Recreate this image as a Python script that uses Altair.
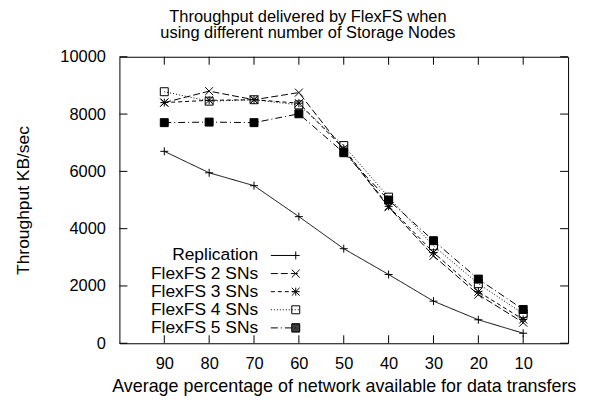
import altair as alt
import pandas as pd

# ---- data ----
x_vals = [90, 80, 70, 60, 50, 40, 30, 20, 10]
series_names = ["Replication", "FlexFS 2 SNs", "FlexFS 3 SNs", "FlexFS 4 SNs", "FlexFS 5 SNs"]
replication = [6700, 5950, 5500, 4420, 3300, 2400, 1470, 820, 350]
flexfs_2 = [8400, 8800, 8500, 8750, 6750, 4750, 3050, 1700, 720]
flexfs_3 = [8400, 8480, 8500, 8380, 6800, 4780, 3170, 1800, 830]
flexfs_4 = [8780, 8450, 8500, 8320, 6900, 5100, 3400, 2080, 1030]
flexfs_5 = [7700, 7720, 7700, 8010, 6650, 5000, 3580, 2240, 1180]
y_ticks = [0, 2000, 4000, 6000, 8000, 10000]

title_lines = ["Throughput delivered by FlexFS when", "using different number of Storage Nodes"]
x_title = "Average percentage of network available for data transfers"
y_title = "Throughput KB/sec"

values = [replication, flexfs_2, flexfs_3, flexfs_4, flexfs_5]
rows = []
for name, vals in zip(series_names, values):
    for xv, yv in zip(x_vals, vals):
        rows.append({"series": name, "x": xv, "y": yv})
df = pd.DataFrame(rows)
xt_df = pd.DataFrame({"x": x_vals})
yt_df = pd.DataFrame({"y": y_ticks})

# ---- style ----
W, H = 451, 288
FONT = "Liberation Sans"
TICK = 8
dashes = [[1, 0], [7, 3], [4, 3], [1, 2], [7, 3, 1, 3]]

plus = "M-1,0L1,0M0,-1L0,1"
cross = "M-1,-1L1,1M-1,1L1,-1"
star = plus + cross
square = "M-1,-1L1,-1L1,1L-1,1Z"
marker_paths = [plus, cross, star, square, square]
fills = ["transparent", "transparent", "transparent", "transparent", "black"]

UNIT = 4.0           # px per path unit for size 64
LABEL_END = 124      # px, right edge of legend labels inside the legend group
SAMPLE_GAP = 13      # px between label end and line sample
SAMPLE_LEN = 28      # px length of the line sample
SYM_CENTER = 4.5     # px, where the legend places the symbol centre


def f(v):
    return ("%.3f" % v).rstrip("0").rstrip(".")


def shift(path, dx):
    out = []
    tok = path.replace("M", " M ").replace("L", " L ").replace("Z", " Z ").split()
    for t in tok:
        if t in ("M", "L", "Z"):
            out.append(t)
        else:
            a, b = t.split(",")
            out.append("%s,%s" % (f(float(a) + dx), b))
    return "".join(out)


start_u = (LABEL_END + SAMPLE_GAP - SYM_CENTER) / UNIT
end_u = start_u + SAMPLE_LEN / UNIT
marker_u = end_u - 0.75


def dashed_line(pattern, start, end):
    if pattern == [1, 0]:
        return "M%s,0L%s,0" % (f(start), f(end))
    out = ""
    pos = start
    i = 0
    while pos < end - 1e-9:
        seg = pattern[i % len(pattern)] / UNIT
        if i % 2 == 0:
            out += "M%s,0L%s,0" % (f(pos), f(min(pos + seg, end)))
        pos += seg
        i += 1
    return out


hatch = "".join("M-1,%sL1,%s" % (f(-1 + k * 0.25), f(-1 + k * 0.25)) for k in range(9))
legend_markers = [plus, cross, star, square, square + hatch]
legend_paths = [dashed_line(d, start_u, end_u) + shift(m, marker_u)
                for d, m in zip(dashes, legend_markers)]

X = alt.X("x:Q", scale=alt.Scale(domain=[8, 92], reverse=True),
          axis=alt.Axis(values=x_vals, title=x_title, ticks=False, tickSize=0, domain=False,
                        grid=False, labelPadding=12, titlePadding=6, format="d",
                        titleFontSize=18))
Y = alt.Y("y:Q", scale=alt.Scale(domain=[0, 10000]),
          axis=alt.Axis(values=y_ticks, title=y_title, ticks=False, tickSize=0, domain=False,
                        grid=False, labelPadding=14, titlePadding=28, format="d"))

base = alt.Chart(df)

lines = base.mark_line(color="black", strokeWidth=1).encode(
    x=X, y=Y,
    strokeDash=alt.StrokeDash("series:N", scale=alt.Scale(domain=series_names, range=dashes), legend=None),
)

points = base.mark_point(size=64, opacity=1, strokeWidth=1, color="black", filled=False).encode(
    x=X, y=Y,
    shape=alt.Shape("series:N", scale=alt.Scale(domain=series_names, range=marker_paths), legend=None),
    fill=alt.Fill("series:N", scale=alt.Scale(domain=series_names, range=fills), legend=None),
)

legend_layer = base.transform_filter("false").mark_point(
    size=64, opacity=1, strokeWidth=1, color="black", filled=False
).encode(
    shape=alt.Shape("series:N", scale=alt.Scale(domain=series_names, range=legend_paths),
                    legend=alt.Legend(title=None, orient="none", legendX=11, legendY=191,
                                      labelAlign="right", labelOffset=LABEL_END - 13,
                                      labelFontSize=17.5,
                                      labelFont=FONT, labelColor="black", symbolSize=64,
                                      symbolStrokeWidth=1, symbolStrokeColor="black",
                                      padding=0, rowPadding=-0.8, labelLimit=400)),
)

tick_x_bottom = alt.Chart(xt_df).mark_rule(color="black", strokeWidth=1).encode(
    x=alt.X("x:Q"), y=alt.value(H), y2=alt.value(H - TICK))
tick_x_top = alt.Chart(xt_df).mark_rule(color="black", strokeWidth=1).encode(
    x=alt.X("x:Q"), y=alt.value(0), y2=alt.value(TICK))
tick_y_left = alt.Chart(yt_df).mark_rule(color="black", strokeWidth=1).encode(
    y=alt.Y("y:Q"), x=alt.value(0), x2=alt.value(TICK))
tick_y_right = alt.Chart(yt_df).mark_rule(color="black", strokeWidth=1).encode(
    y=alt.Y("y:Q"), x=alt.value(W), x2=alt.value(W - TICK))

chart = alt.layer(
    tick_x_bottom, tick_x_top, tick_y_left, tick_y_right, lines, points, legend_layer
).resolve_scale(shape="independent").properties(
    width=W, height=H,
    background="white",
    padding={"left": 6, "top": 0, "right": 5, "bottom": 0},
    title=alt.TitleParams(text=title_lines, fontSize=16.5, font=FONT, fontWeight="normal",
                          color="black", lineHeight=16.5, offset=7, dx=-36, anchor="middle"),
).configure_view(stroke="black", strokeWidth=1).configure_axis(
    labelFont=FONT, titleFont=FONT, labelFontSize=16.5, titleFontSize=17.5,
    labelColor="black", titleColor="black", titleFontWeight="normal"
)

chart.save("out.html", embed_options={"renderer": "svg", "actions": False})
